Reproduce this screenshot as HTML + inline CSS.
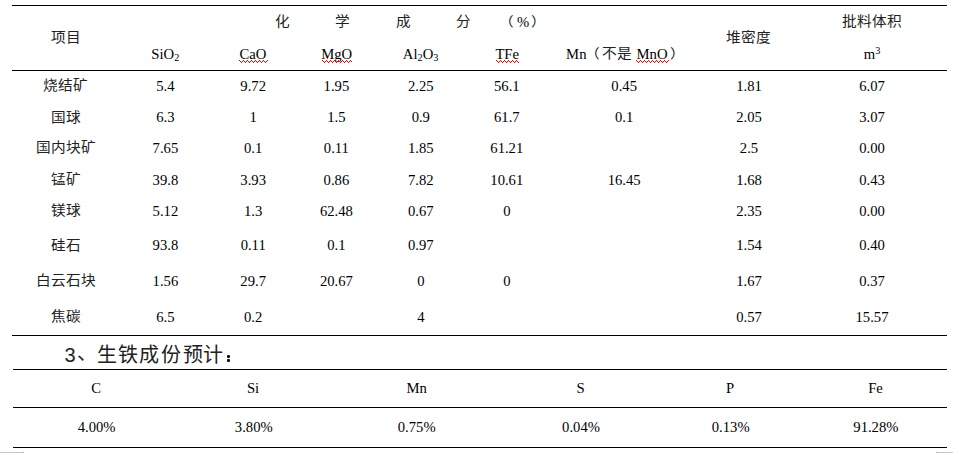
<!DOCTYPE html>
<html lang="zh-CN"><head><meta charset="utf-8"><title>table</title>
<style>
html,body{margin:0;padding:0;background:#fff;width:953px;height:453px;overflow:hidden;position:relative}
.t{position:absolute;font:14.67px/20px 'Liberation Serif',serif;color:#000;text-align:center;white-space:nowrap}
.c{position:absolute;font:14.67px/20px 'Liberation Sans',sans-serif;color:#222;transform:scaleY(0.9);transform-origin:50% 9.5px;text-align:center;white-space:nowrap}
.h{position:absolute;font:20px/24px 'Liberation Sans',sans-serif;color:#222;white-space:nowrap}
.l{text-align:left}
.r{position:absolute;height:1px;background:#000}
sub,sup{font-size:70%;line-height:0}
sub{vertical-align:-2px}
sup{vertical-align:5px}
</style></head><body>
<div class="r" style="left:12px;top:5px;width:935px"></div><div class="r" style="left:12px;top:70px;width:935px"></div><div class="r" style="left:12px;top:335px;width:935px"></div><div class="r" style="left:13px;top:369px;width:934px"></div><div class="r" style="left:13px;top:407px;width:934px"></div><div class="r" style="left:13px;top:447px;width:934px"></div>
<div class="c" style="left:-14.50px;top:76.15px;width:160px">烧结矿</div><div class="t" style="left:85.40px;top:76.00px;width:160px">5.4</div><div class="t" style="left:173.20px;top:76.00px;width:160px">9.72</div><div class="t" style="left:256.40px;top:76.00px;width:160px">1.95</div><div class="t" style="left:340.80px;top:76.00px;width:160px">2.25</div><div class="t" style="left:426.80px;top:76.00px;width:160px">56.1</div><div class="t" style="left:544.20px;top:76.00px;width:160px">0.45</div><div class="t" style="left:669.00px;top:76.00px;width:160px">1.81</div><div class="t" style="left:792.00px;top:76.00px;width:160px">6.07</div><div class="c" style="left:-14.50px;top:107.50px;width:160px">国球</div><div class="t" style="left:85.40px;top:107.00px;width:160px">6.3</div><div class="t" style="left:173.20px;top:107.00px;width:160px">1</div><div class="t" style="left:256.40px;top:107.00px;width:160px">1.5</div><div class="t" style="left:340.80px;top:107.00px;width:160px">0.9</div><div class="t" style="left:426.80px;top:107.00px;width:160px">61.7</div><div class="t" style="left:544.20px;top:107.00px;width:160px">0.1</div><div class="t" style="left:669.00px;top:107.00px;width:160px">2.05</div><div class="t" style="left:792.00px;top:107.00px;width:160px">3.07</div><div class="c" style="left:-14.50px;top:137.70px;width:160px">国内块矿</div><div class="t" style="left:85.40px;top:138.00px;width:160px">7.65</div><div class="t" style="left:173.20px;top:138.00px;width:160px">0.1</div><div class="t" style="left:256.40px;top:138.00px;width:160px">0.11</div><div class="t" style="left:340.80px;top:138.00px;width:160px">1.85</div><div class="t" style="left:426.80px;top:138.00px;width:160px">61.21</div><div class="t" style="left:669.00px;top:138.00px;width:160px">2.5</div><div class="t" style="left:792.00px;top:138.00px;width:160px">0.00</div><div class="c" style="left:-14.50px;top:170.20px;width:160px">锰矿</div><div class="t" style="left:85.40px;top:170.00px;width:160px">39.8</div><div class="t" style="left:173.20px;top:170.00px;width:160px">3.93</div><div class="t" style="left:256.40px;top:170.00px;width:160px">0.86</div><div class="t" style="left:340.80px;top:170.00px;width:160px">7.82</div><div class="t" style="left:426.80px;top:170.00px;width:160px">10.61</div><div class="t" style="left:544.20px;top:170.00px;width:160px">16.45</div><div class="t" style="left:669.00px;top:170.00px;width:160px">1.68</div><div class="t" style="left:792.00px;top:170.00px;width:160px">0.43</div><div class="c" style="left:-14.50px;top:201.40px;width:160px">镁球</div><div class="t" style="left:85.40px;top:201.00px;width:160px">5.12</div><div class="t" style="left:173.20px;top:201.00px;width:160px">1.3</div><div class="t" style="left:256.40px;top:201.00px;width:160px">62.48</div><div class="t" style="left:340.80px;top:201.00px;width:160px">0.67</div><div class="t" style="left:426.80px;top:201.00px;width:160px">0</div><div class="t" style="left:669.00px;top:201.00px;width:160px">2.35</div><div class="t" style="left:792.00px;top:201.00px;width:160px">0.00</div><div class="c" style="left:-14.50px;top:235.50px;width:160px">硅石</div><div class="t" style="left:85.40px;top:235.00px;width:160px">93.8</div><div class="t" style="left:173.20px;top:235.00px;width:160px">0.11</div><div class="t" style="left:256.40px;top:235.00px;width:160px">0.1</div><div class="t" style="left:340.80px;top:235.00px;width:160px">0.97</div><div class="t" style="left:669.00px;top:235.00px;width:160px">1.54</div><div class="t" style="left:792.00px;top:235.00px;width:160px">0.40</div><div class="c" style="left:-14.50px;top:270.80px;width:160px">白云石块</div><div class="t" style="left:85.40px;top:271.00px;width:160px">1.56</div><div class="t" style="left:173.20px;top:271.00px;width:160px">29.7</div><div class="t" style="left:256.40px;top:271.00px;width:160px">20.67</div><div class="t" style="left:340.80px;top:271.00px;width:160px">0</div><div class="t" style="left:426.80px;top:271.00px;width:160px">0</div><div class="t" style="left:669.00px;top:271.00px;width:160px">1.67</div><div class="t" style="left:792.00px;top:271.00px;width:160px">0.37</div><div class="c" style="left:-14.50px;top:306.80px;width:160px">焦碳</div><div class="t" style="left:85.40px;top:307.00px;width:160px">6.5</div><div class="t" style="left:173.20px;top:307.00px;width:160px">0.2</div><div class="t" style="left:340.80px;top:307.00px;width:160px">4</div><div class="t" style="left:669.00px;top:307.00px;width:160px">0.57</div><div class="t" style="left:792.00px;top:307.00px;width:160px">15.57</div><div class="c" style="left:-13.60px;top:27.50px;width:160px">项目</div><div class="c" style="left:202.20px;top:12.00px;width:160px">化</div><div class="c" style="left:262.40px;top:12.00px;width:160px">学</div><div class="c" style="left:323.60px;top:12.00px;width:160px">成</div><div class="c" style="left:383.40px;top:12.00px;width:160px">分</div><div class="c l" style="left:498.70px;top:12.00px">（</div><div class="t" style="left:443.20px;top:12.00px;width:160px">%</div><div class="c l" style="left:530.80px;top:12.00px">）</div><div class="t" style="left:85.30px;top:44.00px;width:160px">SiO<sub>2</sub></div><div class="t" style="left:173.00px;top:44.00px;width:160px">CaO</div><div class="t" style="left:256.70px;top:44.00px;width:160px">MgO</div><div class="t" style="left:340.60px;top:44.00px;width:160px">Al<sub>2</sub>O<sub>3</sub></div><div class="t" style="left:427.20px;top:44.00px;width:160px">TFe</div><div class="t" style="left:496.30px;top:44.00px;width:160px">Mn</div><div class="c l" style="left:584.70px;top:44.00px">（</div><div class="c" style="left:537.00px;top:44.00px;width:160px">不是</div><div class="t" style="left:572.00px;top:44.00px;width:160px">MnO</div><div class="c l" style="left:670.00px;top:44.00px">）</div><div class="c" style="left:668.90px;top:27.80px;width:160px">堆密度</div><div class="c" style="left:791.80px;top:12.20px;width:160px">批料体积</div><div class="t" style="left:792.00px;top:44.00px;width:160px">m<sup>3</sup></div><div class="h" style="left:64.40px;top:343.20px">3</div><div class="h" style="left:76.60px;top:341.20px">、</div><div class="h" style="left:97.40px;top:343.00px">生</div><div class="h" style="left:118.05px;top:343.00px">铁</div><div class="h" style="left:139.35px;top:343.00px">成</div><div class="h" style="left:161.40px;top:343.00px">份</div><div class="h" style="left:182.70px;top:343.00px">预</div><div class="h" style="left:203.45px;top:343.00px">计</div><div style="position:absolute;left:227px;top:355px;width:3px;height:3px;background:#111;border-radius:1px"></div><div style="position:absolute;left:227px;top:359px;width:3px;height:3px;background:#111;border-radius:1px"></div><div class="t" style="left:16.10px;top:378.00px;width:160px">C</div><div class="t" style="left:173.00px;top:378.00px;width:160px">Si</div><div class="t" style="left:336.70px;top:378.00px;width:160px">Mn</div><div class="t" style="left:500.50px;top:378.00px;width:160px">S</div><div class="t" style="left:650.10px;top:378.00px;width:160px">P</div><div class="t" style="left:795.50px;top:378.00px;width:160px">Fe</div><div class="t" style="left:16.60px;top:417.00px;width:160px">4.00%</div><div class="t" style="left:173.80px;top:417.00px;width:160px">3.80%</div><div class="t" style="left:336.70px;top:417.00px;width:160px">0.75%</div><div class="t" style="left:501.00px;top:417.00px;width:160px">0.04%</div><div class="t" style="left:650.70px;top:417.00px;width:160px">0.13%</div><div class="t" style="left:795.90px;top:417.00px;width:160px">91.28%</div>
<svg width="953" height="453" style="position:absolute;left:0;top:0" shape-rendering="crispEdges"><g fill="#f00"><rect x="239" y="60" width="1" height="1"/><rect x="240" y="61" width="1" height="1"/><rect x="241" y="62" width="1" height="1"/><rect x="242" y="61" width="1" height="1"/><rect x="243" y="60" width="1" height="1"/><rect x="244" y="61" width="1" height="1"/><rect x="245" y="62" width="1" height="1"/><rect x="246" y="61" width="1" height="1"/><rect x="247" y="60" width="1" height="1"/><rect x="248" y="61" width="1" height="1"/><rect x="249" y="62" width="1" height="1"/><rect x="250" y="61" width="1" height="1"/><rect x="251" y="60" width="1" height="1"/><rect x="252" y="61" width="1" height="1"/><rect x="253" y="62" width="1" height="1"/><rect x="254" y="61" width="1" height="1"/><rect x="255" y="60" width="1" height="1"/><rect x="256" y="61" width="1" height="1"/><rect x="257" y="62" width="1" height="1"/><rect x="258" y="61" width="1" height="1"/><rect x="259" y="60" width="1" height="1"/><rect x="260" y="61" width="1" height="1"/><rect x="261" y="62" width="1" height="1"/><rect x="262" y="61" width="1" height="1"/><rect x="263" y="60" width="1" height="1"/><rect x="264" y="61" width="1" height="1"/><rect x="265" y="62" width="1" height="1"/><rect x="266" y="61" width="1" height="1"/><rect x="267" y="60" width="1" height="1"/><rect x="322" y="60" width="1" height="1"/><rect x="323" y="61" width="1" height="1"/><rect x="324" y="62" width="1" height="1"/><rect x="325" y="61" width="1" height="1"/><rect x="326" y="60" width="1" height="1"/><rect x="327" y="61" width="1" height="1"/><rect x="328" y="62" width="1" height="1"/><rect x="329" y="61" width="1" height="1"/><rect x="330" y="60" width="1" height="1"/><rect x="331" y="61" width="1" height="1"/><rect x="332" y="62" width="1" height="1"/><rect x="333" y="61" width="1" height="1"/><rect x="334" y="60" width="1" height="1"/><rect x="335" y="61" width="1" height="1"/><rect x="336" y="62" width="1" height="1"/><rect x="337" y="61" width="1" height="1"/><rect x="338" y="60" width="1" height="1"/><rect x="339" y="61" width="1" height="1"/><rect x="340" y="62" width="1" height="1"/><rect x="341" y="61" width="1" height="1"/><rect x="342" y="60" width="1" height="1"/><rect x="343" y="61" width="1" height="1"/><rect x="344" y="62" width="1" height="1"/><rect x="345" y="61" width="1" height="1"/><rect x="346" y="60" width="1" height="1"/><rect x="347" y="61" width="1" height="1"/><rect x="348" y="62" width="1" height="1"/><rect x="349" y="61" width="1" height="1"/><rect x="350" y="60" width="1" height="1"/><rect x="351" y="61" width="1" height="1"/><rect x="496" y="60" width="1" height="1"/><rect x="497" y="61" width="1" height="1"/><rect x="498" y="62" width="1" height="1"/><rect x="499" y="61" width="1" height="1"/><rect x="500" y="60" width="1" height="1"/><rect x="501" y="61" width="1" height="1"/><rect x="502" y="62" width="1" height="1"/><rect x="503" y="61" width="1" height="1"/><rect x="504" y="60" width="1" height="1"/><rect x="505" y="61" width="1" height="1"/><rect x="506" y="62" width="1" height="1"/><rect x="507" y="61" width="1" height="1"/><rect x="508" y="60" width="1" height="1"/><rect x="509" y="61" width="1" height="1"/><rect x="510" y="62" width="1" height="1"/><rect x="511" y="61" width="1" height="1"/><rect x="512" y="60" width="1" height="1"/><rect x="513" y="61" width="1" height="1"/><rect x="514" y="62" width="1" height="1"/><rect x="515" y="61" width="1" height="1"/><rect x="516" y="60" width="1" height="1"/><rect x="517" y="61" width="1" height="1"/><rect x="518" y="62" width="1" height="1"/><rect x="636" y="60" width="1" height="1"/><rect x="637" y="61" width="1" height="1"/><rect x="638" y="62" width="1" height="1"/><rect x="639" y="61" width="1" height="1"/><rect x="640" y="60" width="1" height="1"/><rect x="641" y="61" width="1" height="1"/><rect x="642" y="62" width="1" height="1"/><rect x="643" y="61" width="1" height="1"/><rect x="644" y="60" width="1" height="1"/><rect x="645" y="61" width="1" height="1"/><rect x="646" y="62" width="1" height="1"/><rect x="647" y="61" width="1" height="1"/><rect x="648" y="60" width="1" height="1"/><rect x="649" y="61" width="1" height="1"/><rect x="650" y="62" width="1" height="1"/><rect x="651" y="61" width="1" height="1"/><rect x="652" y="60" width="1" height="1"/><rect x="653" y="61" width="1" height="1"/><rect x="654" y="62" width="1" height="1"/><rect x="655" y="61" width="1" height="1"/><rect x="656" y="60" width="1" height="1"/><rect x="657" y="61" width="1" height="1"/><rect x="658" y="62" width="1" height="1"/><rect x="659" y="61" width="1" height="1"/><rect x="660" y="60" width="1" height="1"/><rect x="661" y="61" width="1" height="1"/><rect x="662" y="62" width="1" height="1"/><rect x="663" y="61" width="1" height="1"/><rect x="664" y="60" width="1" height="1"/><rect x="665" y="61" width="1" height="1"/><rect x="666" y="62" width="1" height="1"/><rect x="667" y="61" width="1" height="1"/><rect x="668" y="60" width="1" height="1"/></g>
<rect x="0" y="452" width="23" height="1" fill="#c8c8c8"/><rect x="23" y="452" width="1" height="1" fill="#a0a0a0"/><rect x="936" y="452" width="17" height="1" fill="#c8c8c8"/><rect x="936" y="452" width="1" height="1" fill="#a0a0a0"/></svg>
</body></html>
